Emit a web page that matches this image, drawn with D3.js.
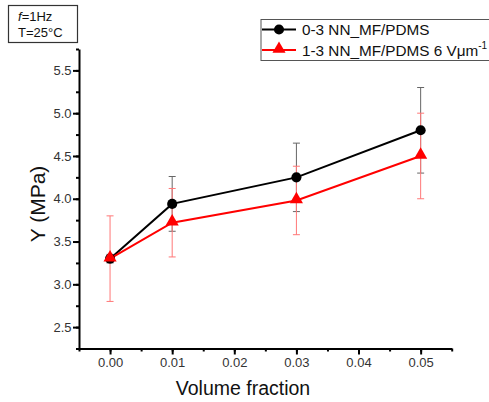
<!DOCTYPE html>
<html><head><meta charset="utf-8">
<script src="https://cdn.jsdelivr.net/npm/d3@7"></script>
<style>body{margin:0;background:#fff}svg{font-family:"Liberation Sans",Arial,sans-serif}</style>
</head><body><svg id="c" width="489" height="402"></svg>
<script>
const xValues = [0.00, 0.01, 0.03, 0.05];
const seriesNames = ["0-3 NN_MF/PDMS", "1-3 NN_MF/PDMS 6 Vμm"];
const blackY = [3.30, 3.94, 4.25, 4.80];
const blackErr = [0.05, 0.32, 0.40, 0.50];
const redY = [3.30, 3.72, 3.98, 4.50];
const redErr = [0.50, 0.40, 0.40, 0.50];
const xTicks = [0.00, 0.01, 0.02, 0.03, 0.04, 0.05];
const yTicks = [2.5, 3.0, 3.5, 4.0, 4.5, 5.0, 5.5];

const svg = d3.select("#c");
const x = d3.scaleLinear().domain([-0.005, 0.055]).range([79, 451.7]);
const y = d3.scaleLinear().domain([2.25, 5.75]).range([348.5, 49]);

// axes
const xMinor = d3.range(-0.005, 0.0551, 0.005).map(v => +v.toFixed(3));
const yMinor = d3.range(2.25, 5.751, 0.25).map(v => +v.toFixed(2));
svg.append("g").attr("transform", "translate(0,348.5)")
  .call(d3.axisBottom(x).tickValues(xMinor).tickSize(3).tickFormat(""))
  .call(g => g.select(".domain").remove())
  .selectAll("line").attr("stroke", "#000").attr("stroke-width", 2);
const gx = svg.append("g").attr("transform", "translate(0,348.5)")
  .call(d3.axisBottom(x).tickValues(xTicks).tickSize(6).tickSizeOuter(0).tickPadding(3).tickFormat(d3.format(".2f")));
gx.select(".domain").attr("stroke", "#000").attr("stroke-width", 2);
gx.selectAll("line").attr("stroke", "#000").attr("stroke-width", 2);
gx.selectAll("text").attr("font-size", 13).attr("fill", "#333").attr("font-family", "Liberation Sans, Arial");

svg.append("g").attr("transform", "translate(79,0)")
  .call(d3.axisLeft(y).tickValues(yMinor).tickSize(3).tickFormat(""))
  .call(g => g.select(".domain").remove())
  .selectAll("line").attr("stroke", "#000").attr("stroke-width", 2);
const gy = svg.append("g").attr("transform", "translate(79,0)")
  .call(d3.axisLeft(y).tickValues(yTicks).tickSize(6).tickSizeOuter(0).tickPadding(1.5).tickFormat(d3.format(".1f")));
gy.select(".domain").attr("stroke", "#000").attr("stroke-width", 2);
gy.selectAll("line").attr("stroke", "#000").attr("stroke-width", 2);
gy.selectAll("text").attr("font-size", 13).attr("fill", "#333").attr("font-family", "Liberation Sans, Arial");

// titles
svg.append("text").attr("x", 243).attr("y", 395).attr("text-anchor", "middle")
  .attr("font-size", 19.5).attr("fill", "#111").text("Volume fraction");
svg.append("text").attr("transform", "translate(44.5,204) rotate(-90)").attr("text-anchor", "middle")
  .attr("font-size", 21).attr("fill", "#111").text("Y (MPa)");

// error bars
function errBars(vals, errs, color, width) {
  const g = svg.append("g").attr("stroke", color).attr("stroke-width", width);
  xValues.forEach((xv, i) => {
    const cx = x(xv), t = y(vals[i] + errs[i]), b = y(vals[i] - errs[i]);
    g.append("line").attr("x1", cx).attr("x2", cx).attr("y1", t).attr("y2", b);
    g.append("line").attr("x1", cx - 3.5).attr("x2", cx + 3.5).attr("y1", t).attr("y2", t);
    g.append("line").attr("x1", cx - 3.5).attr("x2", cx + 3.5).attr("y1", b).attr("y2", b);
  });
}
errBars(blackY, blackErr, "#666", 1);
errBars(redY, redErr, "#f77", 1);

const line = d3.line().x((d, i) => x(xValues[i])).y(d => y(d));
svg.append("path").datum(blackY).attr("d", line).attr("fill", "none").attr("stroke", "#000").attr("stroke-width", 2);
svg.append("path").datum(redY).attr("d", line).attr("fill", "none").attr("stroke", "#f00").attr("stroke-width", 2);

const circ = d3.symbol().type(d3.symbolCircle).size(80);
const tri = d3.symbol().type(d3.symbolTriangle).size(75);
svg.append("g").selectAll("path").data(blackY).join("path")
  .attr("d", circ).attr("transform", (d, i) => `translate(${x(xValues[i])},${y(d)})`).attr("fill", "#000");
svg.append("g").selectAll("path").data(redY).join("path")
  .attr("d", tri).attr("transform", (d, i) => `translate(${x(xValues[i])},${y(d) - 1})`).attr("fill", "#f00");

// legend
const lg = svg.append("g");
lg.append("rect").attr("x", 261).attr("y", 19.5).attr("width", 240).attr("height", 41)
  .attr("fill", "#fff").attr("stroke", "#555").attr("stroke-width", 1);
const rows = [{c: "#000", s: circ, yy: 29.5}, {c: "#f00", s: tri, yy: 50}];
rows.forEach((r, i) => {
  lg.append("line").attr("x1", 262).attr("x2", 296).attr("y1", r.yy).attr("y2", r.yy).attr("stroke", r.c).attr("stroke-width", 2);
  lg.append("path").attr("d", r.s).attr("transform", `translate(279,${r.yy - (i ? 1 : 0)})`).attr("fill", r.c);
  const t = lg.append("text").attr("x", 302).attr("y", r.yy + 5.5).attr("font-size", 15.3).attr("fill", "#111").text(seriesNames[i]);
  if (i === 1) t.append("tspan").attr("font-size", 10).attr("dy", -7).text("-1");
});

// info box
svg.append("rect").attr("x", 8.5).attr("y", 5.5).attr("width", 69).attr("height", 37)
  .attr("fill", "#fff").attr("stroke", "#333").attr("stroke-width", 1.2);
const t1 = svg.append("text").attr("x", 18).attr("y", 20.5).attr("font-size", 13).attr("fill", "#111");
t1.append("tspan").attr("font-style", "italic").text("f");
t1.append("tspan").text("=1Hz");
svg.append("text").attr("x", 18).attr("y", 37).attr("font-size", 13).attr("fill", "#111").text("T=25°C");
</script></body></html>
